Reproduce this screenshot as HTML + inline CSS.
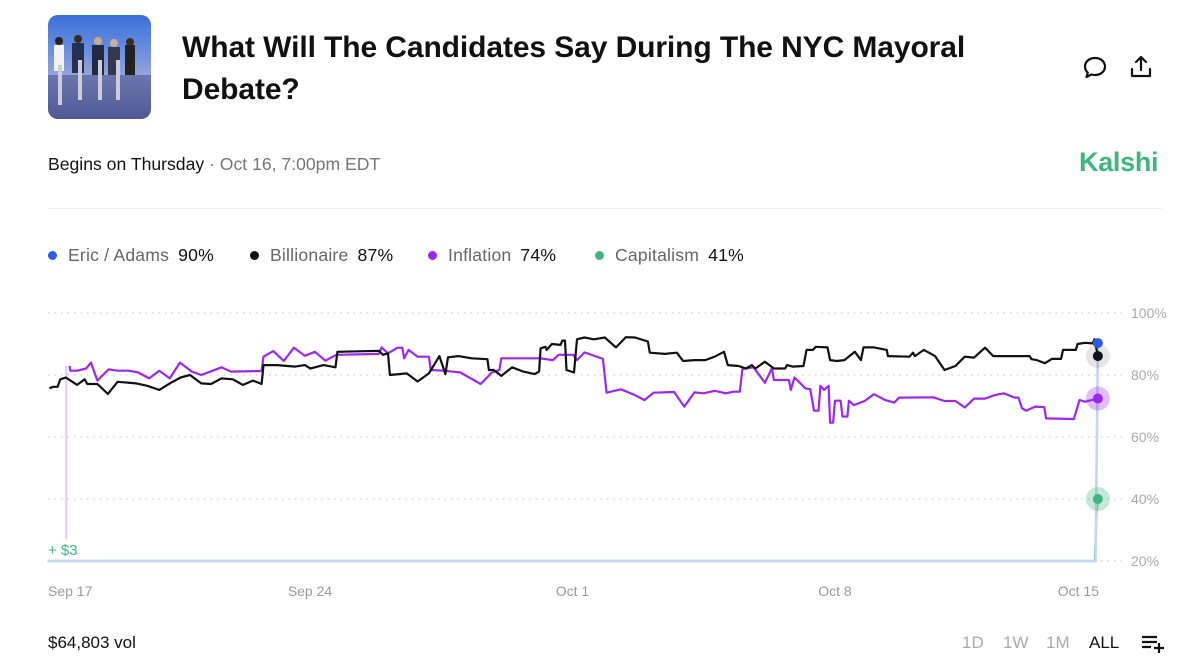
<!DOCTYPE html>
<html><head><meta charset="utf-8"><style>
body{margin:0;background:#fff;font-family:"Liberation Sans",sans-serif;width:1200px;height:669px;overflow:hidden;position:relative;color:#111}
.abs{position:absolute}
.thumb{left:48px;top:15px;width:103px;height:104px;border-radius:10px;overflow:hidden;background:linear-gradient(180deg,#3a6fd8 0%,#6c8fe0 35%,#9aa6d8 60%,#5a5f9a 100%)}
.title{left:182px;top:27px;font-size:30px;font-weight:bold;line-height:42px;color:#111;letter-spacing:-0.1px}
.sub{left:48px;top:154px;font-size:17.6px;color:#111}
.sub span{color:#777}
.kalshi{left:1079px;top:147px;font-size:27px;font-weight:bold;color:#3fb67f;letter-spacing:-0.3px}
.div{left:48px;top:208px;width:1114px;height:1px;background:#ececec}
.legend{top:245px;font-size:17.6px;color:#666;white-space:nowrap;letter-spacing:0.2px}
.legend b{color:#111;font-weight:normal;margin-left:9px}
.dot{display:inline-block;width:9px;height:9px;border-radius:50%;margin-right:11px;vertical-align:1px}
.bottom{top:633px;font-size:17px}
.rng{top:633px;font-size:17px;color:#aaa}
</style></head><body>
<div class="abs thumb">
 <svg width="103" height="104">
  <rect x="0" y="60" width="103" height="44" fill="#4a5590" opacity=".6"/>
  <rect x="6" y="30" width="10" height="26" fill="#f2f2f2"/><circle cx="11" cy="26" r="4" fill="#2a2020"/>
  <rect x="24" y="28" width="12" height="30" fill="#23304f"/><circle cx="30" cy="24" r="4" fill="#3a2a20"/>
  <rect x="44" y="30" width="12" height="30" fill="#222a40"/><circle cx="50" cy="26" r="4" fill="#c9a890"/>
  <rect x="60" y="32" width="12" height="28" fill="#333a50"/><circle cx="66" cy="28" r="4" fill="#c9b0a0"/>
  <rect x="77" y="30" width="10" height="30" fill="#222"/><circle cx="82" cy="27" r="4" fill="#3a2a20"/>
  <rect x="10" y="50" width="4" height="40" fill="#ccd"/><rect x="30" y="45" width="4" height="40" fill="#ccd"/><rect x="50" y="45" width="4" height="40" fill="#ccd"/><rect x="68" y="45" width="4" height="40" fill="#ccd"/>
 </svg>
</div>
<div class="abs title">What Will The Candidates Say During The NYC Mayoral<br>Debate?</div>
<svg class="abs" style="left:1082px;top:55px" width="26" height="26"><path d="M13 3c5.8 0 10 3.8 10 8.5S18.8 20 13 20c-1.3 0-2.4-.2-3.5-.5L4.5 22l1.3-4.3C4 16 3 13.9 3 11.5 3 6.8 7.2 3 13 3z" fill="none" stroke="#111" stroke-width="2.2" stroke-linejoin="round"/></svg>
<svg class="abs" style="left:1128px;top:54px" width="26" height="26"><path d="M13 3v13M8 8l5-5 5 5M4 15v7h18v-7" fill="none" stroke="#111" stroke-width="2.2" stroke-linecap="round" stroke-linejoin="round"/></svg>
<div class="abs sub">Begins on Thursday <span>· Oct 16, 7:00pm EDT</span></div>
<div class="abs kalshi">Kalshi</div>
<div class="abs div"></div>
<div class="abs legend" style="left:48px"><span class="dot" style="background:#2c5ae9"></span>Eric / Adams<b>90%</b></div>
<div class="abs legend" style="left:250px"><span class="dot" style="background:#111"></span>Billionaire<b>87%</b></div>
<div class="abs legend" style="left:428px"><span class="dot" style="background:#9b27f0"></span>Inflation<b>74%</b></div>
<div class="abs legend" style="left:595px"><span class="dot" style="background:#3fb67f"></span>Capitalism<b>41%</b></div>

<svg id="chart" class="abs" style="left:0;top:290px" width="1200" height="320"></svg>

<div class="abs bottom" style="left:48px">$64,803 vol</div>
<div class="abs rng" style="left:962px">1D</div>
<div class="abs rng" style="left:1003px">1W</div>
<div class="abs rng" style="left:1046px">1M</div>
<div class="abs rng" style="left:1089px;color:#111">ALL</div>
<svg class="abs" style="left:1141px;top:634px" width="24" height="20"><path d="M1 3h15M1 8h15M1 13h9M13 14h10M18 9v10" stroke="#111" stroke-width="2.2" fill="none"/></svg>

<script>
const yTicks=[100,80,60,40,20];
const xTickLabels=["Sep 17","Sep 24","Oct 1","Oct 8","Oct 15"];
const xTickDays=[0,7,14,21,28];
const billionaireT=[0.05,0.15,0.27,0.34,0.49,0.79,0.99,1.06,1.33,1.61,1.87,2.37,2.66,2.98,3.26,3.55,3.80,4.10,4.36,4.64,4.94,5.21,5.48,5.71,5.76,6.12,6.61,6.86,7.01,7.36,7.68,7.73,8.84,8.94,9.08,9.13,9.58,9.87,10.17,10.45,10.61,10.68,10.96,11.31,11.73,11.77,11.90,12.10,12.39,12.69,12.99,13.11,13.15,13.28,13.31,13.45,13.68,13.73,13.80,13.84,14.04,14.12,14.32,14.57,14.86,15.16,15.42,15.67,16.01,16.06,16.46,16.78,16.95,17.25,17.54,17.79,18.04,18.14,18.43,18.63,18.78,18.88,19.13,19.37,19.67,19.72,19.87,20.16,20.24,20.41,20.49,20.80,20.87,21.05,21.25,21.53,21.69,21.76,22.04,22.38,22.41,22.98,23.08,23.13,23.37,23.67,23.92,24.21,24.46,24.71,25.00,25.22,25.59,26.19,26.24,26.38,26.60,26.78,27.03,27.08,27.42,27.47,27.67,27.87,27.92,28.01];
const billionaireV=[75.7,76.2,76.2,78.6,79.2,76.8,78.6,77.1,77.1,73.9,77.8,77.3,76.5,75.2,77.3,79.2,80.0,77.3,77.1,78.9,78.6,76.8,78.2,77.1,83.2,83.2,82.7,83.2,82.1,83.2,82.5,87.5,87.8,86.5,87.0,80.0,80.5,77.9,80.5,86.1,80.3,85.7,86.1,85.4,85.1,81.6,81.6,79.7,82.5,81.1,80.3,81.1,88.6,89.1,88.1,90.0,89.7,91.1,91.1,81.6,80.8,91.5,92.1,91.5,92.1,88.9,92.2,92.1,90.8,87.2,86.8,87.2,84.5,84.8,84.8,85.9,87.5,83.2,82.9,82.1,83.2,82.1,84.3,82.1,82.1,83.2,82.7,82.9,88.1,88.1,89.1,88.9,84.8,84.5,84.8,87.5,84.8,88.9,88.9,88.1,86.1,85.9,87.2,86.1,88.1,86.1,81.6,82.9,85.9,85.6,88.8,86.1,86.1,86.1,85.1,84.8,83.8,85.2,85.2,88.1,88.1,90.0,90.4,90.2,91.5,86.1];
const inflationT=[0.59,0.61,0.79,1.03,1.16,1.33,1.63,1.87,2.17,2.42,2.71,2.98,3.26,3.53,3.85,4.10,4.64,4.89,5.71,5.76,6.02,6.30,6.57,6.86,7.13,7.41,7.70,8.84,8.91,9.08,9.33,9.46,9.51,9.63,9.87,10.17,10.22,10.57,11.01,11.55,11.85,12.05,12.10,13.13,13.48,13.63,14.02,14.12,14.32,14.81,14.91,15.29,15.67,15.92,16.16,16.71,16.98,17.25,17.50,17.79,18.09,18.29,18.46,18.53,18.83,19.13,19.32,19.37,19.77,19.82,19.92,20.21,20.34,20.44,20.56,20.61,20.71,20.83,20.87,20.95,21.00,21.15,21.20,21.33,21.37,21.50,21.79,22.04,22.34,22.58,22.71,23.62,23.92,24.21,24.46,24.71,25.00,25.25,25.50,25.79,25.89,25.99,26.09,26.34,26.58,26.63,27.37,27.52,27.67,28.01];
const inflationV=[82.9,81.4,81.4,82.1,84.0,78.2,81.8,81.4,81.4,80.8,78.9,81.4,78.9,84.0,81.1,80.0,82.5,81.1,81.3,85.9,87.7,84.5,88.8,86.2,87.5,84.6,86.5,86.8,88.9,87.0,88.8,88.8,85.4,88.1,85.9,85.9,81.6,81.4,80.8,77.1,80.8,81.6,85.4,85.4,84.8,86.5,86.5,84.8,87.3,85.2,74.3,75.4,73.5,71.9,74.3,74.5,69.8,74.4,74.1,74.9,74.1,74.6,74.6,81.9,82.5,77.5,82.2,78.4,78.4,75.2,79.2,75.7,75.4,68.5,68.5,76.5,75.2,76.5,64.6,64.6,71.7,71.7,66.6,66.6,71.7,70.3,71.6,73.8,71.9,71.1,72.7,72.8,71.6,71.6,69.5,72.4,72.4,73.5,74.1,72.7,72.7,69.3,68.5,69.8,69.6,66.0,65.8,71.9,71.4,72.4];
const ericT=[0,27.95,28.01];
const ericV=[20,20,90.3];
const capitalismT=[0,27.93,27.97,28.01];
const capitalismV=[20,20,35,40];
const inflationStartT=[0.5,0.5];
const inflationStartV=[27,83];

const OY=290;
const x=t=>47.5+t*37.5;
const y=v=>561-OY-(v-20)*3.1;
const NS="http://www.w3.org/2000/svg";
const svg=document.getElementById('chart');
function mk(tag,attrs){const e=document.createElementNS(NS,tag);for(const k in attrs)e.setAttribute(k,attrs[k]);svg.appendChild(e);return e;}
yTicks.forEach(v=>{
 const l=mk('line',{x1:48,x2:1125,y1:y(v),y2:y(v),stroke:'#cfcfcf','stroke-width':1.3,'stroke-dasharray':'1.5 5'});
 
 
 const t=mk('text',{x:1131,y:y(v)+5,'font-size':14,fill:'#aaa','font-family':'Liberation Sans, sans-serif'});
 t.textContent=v+'%';
 
 
});
xTickLabels.forEach((lab,i)=>{
 let cx=x(xTickDays[i]);
 const anchor=i===0?'start':(i===xTickLabels.length-1?'end':'middle');
 if(i===0)cx=48; if(i===xTickLabels.length-1)cx=1099;
 const t=mk('text',{x:cx,y:306,'font-size':14,fill:'#999','text-anchor':anchor,'font-family':'Liberation Sans, sans-serif'});
 t.textContent=lab;
 
 
});
function line(T,V,color,w,name){
 const d=T.map((t,i)=>(i?'L':'M')+x(t).toFixed(1)+' '+y(V[i]).toFixed(1)).join(' ');
 const p=mk('path',{d:d,fill:'none',stroke:color,'stroke-width':w,'stroke-linejoin':'round'});
 
 
}
line(inflationStartT,inflationStartV,'#e3c6fb',2,'inflation-start-line');
line(capitalismT,capitalismV,'#3fb67f',2.2,'capitalism-line');
line(ericT,ericV,'#c3d6f2',2.6,'eric-adams-line');
line(inflationT,inflationV,'#9b27f0',2.2,'inflation-line');
line(billionaireT,billionaireV,'#111',2.2,'billionaire-line');
const lt=mk('text',{x:48,y:265,'font-size':15,fill:'#3fb67f','font-family':'Liberation Sans, sans-serif'});
lt.textContent='+ $3';


function endDot(T,V,color,halo,name){
 const i=T.length-1;
 if(halo){const h=mk('circle',{cx:x(T[i]),cy:y(V[i]),r:12,fill:halo});}
 const c=mk('circle',{cx:x(T[i]),cy:y(V[i]),r:5,fill:color});
 
 
}
endDot(billionaireT,billionaireV,'#111','rgba(0,0,0,0.1)','billionaire-end-dot');
endDot(inflationT,inflationV,'#9b27f0','rgba(155,39,240,0.3)','inflation-end-dot');
endDot(capitalismT,capitalismV,'#3fb67f','rgba(63,182,127,0.3)','capitalism-end-dot');
endDot(ericT,ericV,'#2c5ae9',null,'eric-adams-end-dot');
</script>
</body></html>
